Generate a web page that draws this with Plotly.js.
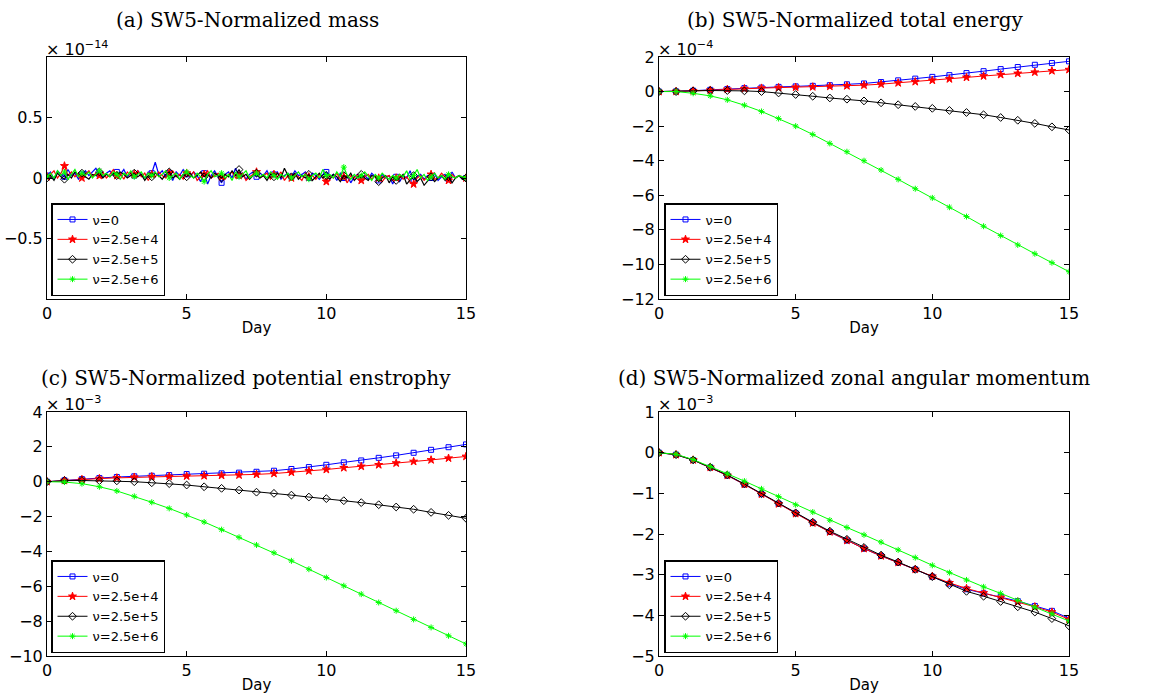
<!DOCTYPE html>
<html>
<head>
<meta charset="utf-8">
<script src="https://cdn.plot.ly/plotly-3.0.1.min.js"></script>
<style>html,body{margin:0;padding:0;background:#fff;}#chart{width:1173px;height:694px;}</style>
</head>
<body>
<div id="chart"></div>
<script>
// ---------------- DATA ----------------
const seriesNames = ['ν=0', 'ν=2.5e+4', 'ν=2.5e+5', 'ν=2.5e+6'];
const panelTitles = ['(a) SW5-Normalized mass', '(b) SW5-Normalized total energy',
  '(c) SW5-Normalized potential enstrophy', '(d) SW5-Normalized zonal angular momentum'];
const exponentLabels = ['−14', '−4', '−3', '−3'];
const xTickVals = [0, 5, 10, 15];

// days sampled every 0.625 day (markers) for panels b,c,d
const days = [0, 0.625, 1.25, 1.875, 2.5, 3.125, 3.75, 4.375, 5, 5.625, 6.25, 6.875, 7.5,
  8.125, 8.75, 9.375, 10, 10.625, 11.25, 11.875, 12.5, 13.125, 13.75, 14.375, 15];

// (a) mass, units of 1e-14, sampled every 0.125 day
const daysFine = [];
for (let i = 0; i <= 120; i++) daysFine.push(i * 0.125);
const massNu0 = [0.02,0.05,-0.01,0.06,0.03,0.01,0.07,0.02,0.04,-0.01,
  0.03,0.06,0.02,0.05,0.08,0.03,0.01,0.04,0.06,0.02,
  0.05,0.03,0.07,0.01,0.04,0.02,0.06,0.03,0.00,0.05,
  0.04,0.13,0.03,0.06,0.01,0.04,-0.02,0.05,0.02,0.07,
  0.03,0.01,0.05,0.02,-0.03,0.04,-0.05,0.02,0.06,0.01,
  -0.04,0.03,0.05,0.00,0.08,0.02,0.04,-0.01,0.03,0.05,
  0.01,0.04,0.02,0.06,0.00,0.03,0.05,-0.01,0.02,0.04,
  0.01,0.06,0.02,0.03,0.05,0.00,0.04,0.02,-0.01,0.03,
  0.05,0.01,0.03,-0.02,0.04,0.00,0.02,-0.04,0.01,0.03,
  0.00,0.02,-0.01,0.04,0.01,-0.02,0.03,0.00,0.02,-0.05,
  0.01,-0.03,0.02,0.00,0.06,-0.02,0.01,0.03,-0.01,0.02,
  0.00,0.04,-0.02,0.01,0.03,-0.01,0.05,0.00,0.02,-0.01,
  0.00];
const massNu4 = [0.01,0.03,0.06,0.00,0.04,0.10,0.02,0.05,0.01,0.04,
  0.00,0.03,0.06,0.01,0.04,0.02,0.05,0.00,0.03,0.07,
  0.02,0.04,-0.01,0.05,0.02,0.03,0.06,0.01,0.04,-0.02,
  0.03,0.01,0.05,0.02,0.00,0.04,0.06,0.01,0.03,-0.01,
  0.04,0.02,0.05,-0.02,0.01,0.03,0.06,0.00,0.02,0.04,
  0.01,-0.01,0.03,0.05,0.00,0.02,0.04,-0.02,0.01,0.03,
  0.05,0.00,0.02,0.04,-0.01,0.03,0.01,0.05,-0.02,0.02,
  0.00,0.03,0.01,-0.02,0.04,0.01,0.02,-0.01,0.03,0.00,
  -0.03,0.02,0.00,0.04,-0.01,0.01,-0.04,0.02,0.00,0.03,
  -0.02,0.01,0.03,-0.01,0.02,0.00,-0.03,0.01,0.02,-0.02,
  0.00,0.03,-0.01,0.01,-0.03,-0.05,0.00,0.02,-0.02,0.01,
  0.03,-0.01,0.00,0.04,0.01,-0.02,0.03,0.00,0.02,0.01,
  0.00];
const massNu5 = [0.00,0.02,-0.02,0.04,0.01,-0.01,0.03,0.00,0.05,0.02,
  0.04,0.01,-0.01,0.03,0.02,0.05,0.00,0.03,0.01,0.04,
  0.02,0.05,0.03,0.00,0.02,0.04,0.01,0.03,-0.02,0.02,
  0.01,0.04,0.02,-0.01,0.03,0.05,0.00,0.02,-0.01,0.03,
  0.01,0.04,0.00,0.02,0.05,0.01,0.03,0.00,0.04,0.02,
  0.00,0.03,0.01,0.06,0.02,0.07,0.01,0.03,-0.01,0.02,
  0.04,0.00,0.02,-0.02,0.03,0.01,0.04,0.00,0.08,0.02,
  0.01,0.04,-0.01,0.02,0.00,0.03,-0.02,0.01,0.04,0.00,
  0.02,-0.01,0.03,0.01,-0.03,0.02,0.00,0.04,-0.02,0.01,
  0.03,0.00,-0.02,0.02,0.01,-0.03,0.00,0.02,-0.04,0.01,
  -0.02,0.00,0.03,-0.05,-0.01,0.02,-0.03,0.00,-0.06,-0.02,
  0.01,-0.03,0.00,0.02,-0.02,0.01,-0.04,0.00,0.02,-0.01,
  0.00];
const massNu6 = [0.01,0.04,0.00,0.06,0.02,0.05,-0.01,0.03,0.07,0.01,
  0.04,0.02,0.05,0.00,0.03,0.06,0.02,0.04,0.01,0.05,
  0.03,-0.01,0.04,0.02,0.06,0.01,0.03,0.05,0.00,0.04,
  0.02,0.05,0.01,0.03,0.06,0.00,0.02,0.04,-0.01,0.03,
  0.05,0.02,0.00,0.04,0.01,-0.03,0.03,0.06,0.01,0.02,
  0.04,0.00,0.03,-0.02,0.05,0.01,0.03,0.06,0.00,0.02,
  0.04,0.01,0.03,0.00,0.05,0.02,-0.01,0.03,0.01,0.04,
  0.00,0.02,0.05,0.01,0.03,-0.01,0.02,0.04,0.00,0.07,
  0.02,0.03,0.00,0.05,0.01,0.09,0.02,-0.01,0.03,0.00,
  0.02,0.05,0.01,-0.02,0.03,0.00,0.04,0.01,-0.01,0.02,
  0.00,0.03,0.01,0.06,-0.01,0.02,0.07,0.00,0.03,-0.02,
  0.01,0.04,0.00,0.02,-0.01,0.03,0.01,0.00,0.02,0.01,
  0.00];

// (b) total energy, units of 1e-4
const energyNu0 = [0,0.01,0.05,0.1,0.15,0.2,0.23,0.27,0.3,0.33,0.37,0.42,0.47,0.55,0.65,0.75,0.85,0.95,1.07,1.18,1.3,1.42,1.55,1.65,1.75];
const energyNu4 = [0,0.01,0.04,0.08,0.13,0.17,0.2,0.23,0.25,0.27,0.3,0.33,0.37,0.43,0.5,0.57,0.65,0.73,0.82,0.9,0.98,1.05,1.12,1.2,1.27];
const energyNu5 = [0,0,0.04,0.06,0.06,0.04,0,-0.08,-0.17,-0.27,-0.37,-0.44,-0.54,-0.65,-0.76,-0.86,-0.97,-1.09,-1.21,-1.34,-1.5,-1.66,-1.84,-2.04,-2.22];
const energyNu6 = [0,0,-0.1,-0.25,-0.48,-0.79,-1.15,-1.56,-2.0,-2.48,-3.0,-3.48,-4.0,-4.54,-5.08,-5.62,-6.15,-6.69,-7.23,-7.79,-8.33,-8.87,-9.38,-9.9,-10.42];

// (c) potential enstrophy, units of 1e-3
const enstNu0 = [0,0.08,0.15,0.21,0.27,0.31,0.34,0.38,0.44,0.46,0.48,0.52,0.57,0.63,0.73,0.84,0.97,1.11,1.22,1.37,1.51,1.66,1.83,1.98,2.14];
const enstNu4 = [0,0.07,0.13,0.18,0.22,0.26,0.29,0.3,0.32,0.34,0.36,0.38,0.42,0.47,0.54,0.62,0.7,0.8,0.88,0.97,1.07,1.16,1.25,1.35,1.45];
const enstNu5 = [0,0.06,0.07,0.06,0.05,0,-0.06,-0.11,-0.19,-0.29,-0.38,-0.48,-0.6,-0.67,-0.77,-0.88,-0.97,-1.09,-1.2,-1.32,-1.45,-1.58,-1.76,-1.93,-2.1];
const enstNu6 = [0,-0.02,-0.11,-0.29,-0.53,-0.84,-1.18,-1.53,-1.91,-2.31,-2.75,-3.19,-3.63,-4.08,-4.54,-5.02,-5.5,-5.97,-6.45,-6.93,-7.4,-7.9,-8.36,-8.84,-9.31];

// (d) zonal angular momentum, units of 1e-3
const zamNu0 = [0,-0.05,-0.18,-0.36,-0.56,-0.78,-1.02,-1.26,-1.49,-1.72,-1.95,-2.16,-2.36,-2.54,-2.7,-2.87,-3.05,-3.22,-3.36,-3.46,-3.55,-3.65,-3.77,-3.89,-4.07];
const zamNu4 = [0,-0.05,-0.18,-0.36,-0.56,-0.78,-1.02,-1.26,-1.5,-1.73,-1.95,-2.16,-2.36,-2.54,-2.7,-2.87,-3.04,-3.2,-3.34,-3.45,-3.56,-3.67,-3.79,-3.92,-4.1];
const zamNu5 = [0,-0.05,-0.18,-0.36,-0.55,-0.77,-1.01,-1.24,-1.48,-1.71,-1.93,-2.13,-2.33,-2.52,-2.69,-2.87,-3.05,-3.25,-3.41,-3.53,-3.66,-3.79,-3.92,-4.08,-4.26];
const zamNu6 = [0,-0.04,-0.17,-0.34,-0.52,-0.7,-0.89,-1.08,-1.28,-1.46,-1.66,-1.84,-2.02,-2.2,-2.39,-2.58,-2.77,-2.95,-3.13,-3.3,-3.46,-3.63,-3.8,-3.96,-4.14];

// ---------------- STYLE ----------------
const colors = ['#0000ff', '#ff0000', '#000000', '#00ff00'];
const symbols = ['square-open', 'star', 'diamond-open', 'asterisk-open'];
const msizes = [5, 6, 6, 5];

const W = 1173, H = 694;
const px = (a, b) => [a / W, b / W];
const py = (top, bot) => [1 - bot / H, 1 - top / H];
const xDom = [px(47, 466), px(659, 1069), px(47, 466), px(659, 1069)];
const yDom = [py(57, 299), py(57, 299), py(412, 656), py(412, 656)];

const traces = [];
const axSuffix = ['', '2', '3', '4'];
const legendIds = ['legend', 'legend2', 'legend3', 'legend4'];

function markerOf(k) {
  return {symbol: symbols[k], size: msizes[k], color: colors[k], line: {color: colors[k], width: 1}};
}

// Panel (a): dense noisy lines, markers every 5th sample
const massSeries = [massNu0, massNu4, massNu5, massNu6];
massSeries.forEach((ys, k) => {
  traces.push({x: daysFine, y: ys, mode: 'lines', line: {color: colors[k], width: 1.2},
    xaxis: 'x', yaxis: 'y', showlegend: false, hoverinfo: 'skip'});
  const mx = daysFine.filter((d, i) => i % 5 === 0);
  const my = ys.filter((d, i) => i % 5 === 0);
  traces.push({x: mx, y: my, mode: 'markers', marker: markerOf(k),
    xaxis: 'x', yaxis: 'y', showlegend: false});
});
massSeries.forEach((ys, k) => {
  traces.push({x: [null], y: [null], mode: 'lines+markers', name: seriesNames[k],
    line: {color: colors[k], width: 1}, marker: markerOf(k),
    xaxis: 'x', yaxis: 'y', legend: 'legend', showlegend: true});
});

const otherPanels = [
  [energyNu0, energyNu4, energyNu5, energyNu6],
  [enstNu0, enstNu4, enstNu5, enstNu6],
  [zamNu0, zamNu4, zamNu5, zamNu6]
];
otherPanels.forEach((set, p) => {
  const pi = p + 1;
  set.forEach((ys, k) => {
    traces.push({x: days, y: ys, mode: 'lines+markers', name: seriesNames[k],
      line: {color: colors[k], width: 1}, marker: markerOf(k),
      xaxis: 'x' + axSuffix[pi], yaxis: 'y' + axSuffix[pi], legend: legendIds[pi]});
  });
});

const tickFont = {family: 'DejaVu Sans, sans-serif', size: 16, color: '#000'};
const yRanges = [[-1, 1], [-12, 2], [-10, 4], [-5, 1]];
const yTicks = [[-0.5, 0, 0.5], [-12, -10, -8, -6, -4, -2, 0, 2], [-10, -8, -6, -4, -2, 0, 2, 4], [-5, -4, -3, -2, -1, 0, 1]];
const yTickText = [['−0.5', '0', '0.5'], null, null, null];

const layout = {
  width: W, height: H,
  margin: {l: 0, r: 0, t: 0, b: 0},
  paper_bgcolor: '#fff', plot_bgcolor: '#fff',
  showlegend: true,
  annotations: [],
  font: {family: 'DejaVu Sans, sans-serif', color: '#000'}
};

const titleCenters = [[247, 20], [855, 20], [246, 378], [854, 378]];
const legendPos = [[51, 296], [664, 296], [51, 653], [664, 653]];

for (let p = 0; p < 4; p++) {
  const s = axSuffix[p];
  layout['xaxis' + s] = {
    domain: xDom[p], anchor: 'y' + s, range: [0, 15], tickvals: xTickVals,
    ticks: 'inside', ticklen: 5, tickcolor: '#000', mirror: 'allticks', showline: true,
    linecolor: '#000', linewidth: 1, showgrid: false, zeroline: false, tickfont: tickFont,
    title: {text: 'Day', font: {family: 'DejaVu Sans, sans-serif', size: 15, color: '#000'}, standoff: 0}
  };
  const ya = {
    domain: yDom[p], anchor: 'x' + s, range: yRanges[p], tickvals: yTicks[p],
    ticks: 'inside', ticklen: 5, tickcolor: '#000', mirror: 'allticks', showline: true,
    linecolor: '#000', linewidth: 1, showgrid: false, zeroline: false, tickfont: tickFont
  };
  if (yTickText[p]) ya.ticktext = yTickText[p];
  layout['yaxis' + s] = ya;

  layout[legendIds[p]] = {
    x: legendPos[p][0] / W, y: 1 - legendPos[p][1] / H, xanchor: 'left', yanchor: 'bottom',
    bgcolor: '#fff', bordercolor: '#000', borderwidth: 1.5,
    font: {family: 'DejaVu Sans, sans-serif', size: 13, color: '#000'},
    tracegroupgap: 0, itemwidth: 30
  };

  layout.annotations.push({
    xref: 'paper', yref: 'paper', x: titleCenters[p][0] / W, y: 1 - titleCenters[p][1] / H,
    xanchor: 'center', yanchor: 'middle', showarrow: false, text: panelTitles[p],
    font: {family: 'DejaVu Serif, serif', size: 20, color: '#000'}
  });
  layout.annotations.push({
    xref: 'paper', yref: 'paper', x: xDom[p][0], y: yDom[p][1], xanchor: 'left', yanchor: 'bottom',
    showarrow: false, text: '× 10<sup>' + exponentLabels[p] + '</sup>',
    font: {family: 'DejaVu Sans, sans-serif', size: 16, color: '#000'}, xshift: -3, yshift: -4
  });
}

Plotly.newPlot('chart', traces, layout, {displayModeBar: false, staticPlot: true});
</script>
</body>
</html>
